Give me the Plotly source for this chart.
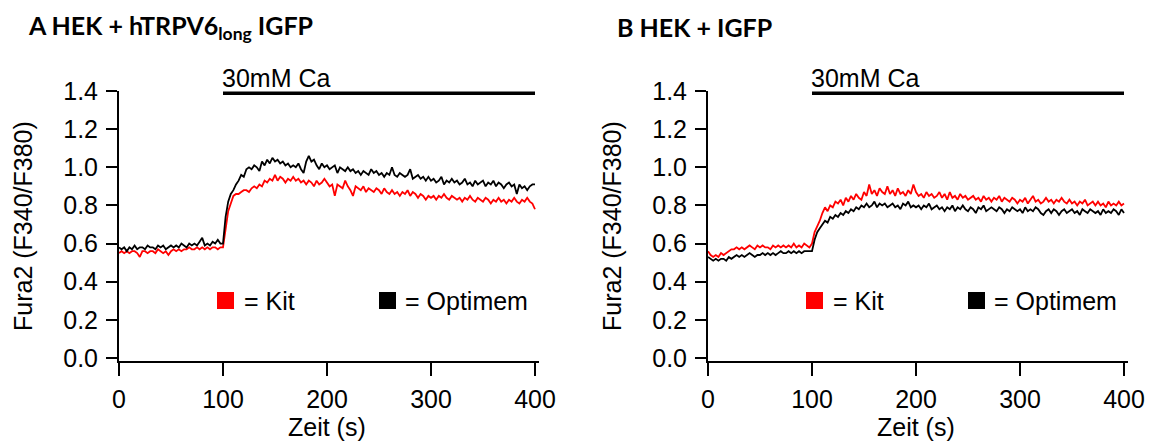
import plotly.graph_objects as go

# ---------------- data ----------------
time_step = 2.5
n_points = 161
time_s = [i * time_step for i in range(n_points)]

kit_A = [
    0.55, 0.56, 0.55, 0.56, 0.55, 0.56, 0.56, 0.55, 0.53, 0.56,
    0.56, 0.55, 0.56, 0.56, 0.55, 0.57, 0.56, 0.55, 0.56, 0.54,
    0.56, 0.57, 0.56, 0.57, 0.56, 0.57, 0.57, 0.58, 0.57, 0.57,
    0.58, 0.57, 0.58, 0.57, 0.58, 0.57, 0.58, 0.58, 0.57, 0.58,
    0.58, 0.69, 0.77, 0.81, 0.85, 0.86, 0.86, 0.87, 0.88, 0.88,
    0.87, 0.89, 0.90, 0.89, 0.91, 0.90, 0.93, 0.92, 0.94, 0.93,
    0.96, 0.93, 0.95, 0.94, 0.92, 0.94, 0.93, 0.95, 0.93, 0.94,
    0.92, 0.93, 0.91, 0.93, 0.92, 0.90, 0.93, 0.91, 0.92, 0.94,
    0.92, 0.90, 0.91, 0.85, 0.91, 0.90, 0.89, 0.93, 0.90, 0.88,
    0.85, 0.90, 0.89, 0.88, 0.90, 0.87, 0.89, 0.88, 0.87, 0.89,
    0.88, 0.86, 0.89, 0.87, 0.86, 0.88, 0.86, 0.87, 0.85, 0.87,
    0.86, 0.88, 0.85, 0.87, 0.86, 0.84, 0.86, 0.85, 0.83, 0.85,
    0.84, 0.85, 0.83, 0.85, 0.84, 0.86, 0.84, 0.83, 0.85, 0.84,
    0.83, 0.84, 0.82, 0.84, 0.83, 0.85, 0.83, 0.82, 0.84, 0.83,
    0.82, 0.84, 0.83, 0.81, 0.83, 0.82, 0.84, 0.82, 0.83, 0.81,
    0.83, 0.82, 0.84, 0.82, 0.81, 0.83, 0.82, 0.84, 0.82, 0.81,
    0.78,
]

optimem_A = [
    0.58, 0.57, 0.58, 0.56, 0.58, 0.57, 0.59, 0.57, 0.58, 0.58,
    0.57, 0.59, 0.58, 0.58, 0.57, 0.59, 0.58, 0.59, 0.57, 0.58,
    0.59, 0.58, 0.59, 0.58, 0.60, 0.59, 0.58, 0.60, 0.59, 0.60,
    0.59, 0.61, 0.63, 0.59, 0.60, 0.59, 0.61, 0.60, 0.62, 0.60,
    0.60, 0.74, 0.82, 0.86, 0.88, 0.91, 0.93, 0.96, 0.95, 0.99,
    1.00, 0.99, 1.01, 1.00, 0.98, 1.03, 1.01, 1.04, 1.02, 1.05,
    1.03, 1.04, 1.02, 1.03, 1.01, 1.02, 1.00, 1.01, 1.00, 1.02,
    0.99, 0.97, 1.03, 1.06, 1.03, 1.04, 1.01, 0.99, 1.02, 1.00,
    1.01, 0.99, 1.00, 1.01, 0.97, 1.00, 0.99, 0.98, 1.00, 0.98,
    0.99, 0.97, 0.98, 0.96, 0.98, 0.97, 0.96, 0.99, 0.97, 0.98,
    0.96, 0.97, 0.95, 0.97, 0.96, 1.00, 0.96, 0.95, 0.97, 0.96,
    0.95, 0.96, 0.99, 0.94, 0.95, 0.96, 0.94, 0.95, 0.93, 0.95,
    0.93, 0.94, 0.92, 0.93, 0.95, 0.91, 0.93, 0.92, 0.94, 0.92,
    0.93, 0.91, 0.92, 0.94, 0.91, 0.92, 0.90, 0.93, 0.91, 0.92,
    0.93, 0.90, 0.92, 0.91, 0.93, 0.90, 0.92, 0.91, 0.89, 0.91,
    0.92, 0.90, 0.91, 0.86, 0.91, 0.89, 0.90, 0.88, 0.90, 0.91,
    0.91,
]

kit_B = [
    0.56, 0.54, 0.53, 0.54, 0.53, 0.55, 0.54, 0.55, 0.56, 0.57,
    0.57, 0.58, 0.57, 0.58, 0.57, 0.58, 0.59, 0.58, 0.57, 0.59,
    0.58, 0.59, 0.58, 0.58, 0.57, 0.59, 0.58, 0.59, 0.58, 0.59,
    0.58, 0.59, 0.58, 0.60, 0.58, 0.59, 0.58, 0.60, 0.59, 0.58,
    0.60, 0.66, 0.69, 0.72, 0.76, 0.79, 0.77, 0.80, 0.79, 0.82,
    0.81, 0.83, 0.80, 0.84, 0.82, 0.85, 0.83, 0.86, 0.84, 0.83,
    0.87, 0.85, 0.91, 0.86, 0.88, 0.85, 0.89, 0.87, 0.86, 0.90,
    0.86, 0.88, 0.85, 0.89, 0.86, 0.87, 0.85, 0.88, 0.86, 0.91,
    0.87, 0.85, 0.86, 0.84, 0.87, 0.85, 0.86, 0.84, 0.85, 0.87,
    0.84, 0.86, 0.83, 0.87, 0.84, 0.85, 0.83, 0.86, 0.84, 0.85,
    0.83, 0.84, 0.85, 0.83, 0.84, 0.82, 0.85, 0.83, 0.84, 0.82,
    0.84, 0.83, 0.85, 0.82, 0.84, 0.83, 0.82, 0.84, 0.83, 0.81,
    0.83, 0.82, 0.84, 0.81, 0.83, 0.85, 0.82, 0.83, 0.81, 0.82,
    0.84, 0.82, 0.83, 0.81, 0.83, 0.82, 0.84, 0.82, 0.81, 0.83,
    0.81, 0.82, 0.80, 0.82, 0.81, 0.83, 0.80, 0.81, 0.82, 0.80,
    0.82, 0.80, 0.81, 0.79, 0.82, 0.80, 0.81, 0.80, 0.82, 0.80,
    0.81,
]

optimem_B = [
    0.53, 0.52, 0.51, 0.52, 0.51, 0.52, 0.52, 0.51, 0.53, 0.52,
    0.53, 0.54, 0.53, 0.54, 0.53, 0.54, 0.55, 0.54, 0.53, 0.54,
    0.54, 0.55, 0.54, 0.55, 0.54, 0.55, 0.54, 0.55, 0.56, 0.55,
    0.55, 0.56, 0.55, 0.56, 0.55, 0.56, 0.55, 0.56, 0.56, 0.56,
    0.56, 0.62, 0.66, 0.68, 0.70, 0.72, 0.71, 0.74, 0.73, 0.75,
    0.74, 0.76, 0.75, 0.77, 0.76, 0.78, 0.77, 0.79, 0.78, 0.80,
    0.79, 0.81, 0.79, 0.80, 0.82, 0.79, 0.81, 0.80, 0.81, 0.79,
    0.80, 0.81, 0.79, 0.80, 0.78, 0.81, 0.80, 0.82, 0.79, 0.80,
    0.79, 0.80, 0.78, 0.80, 0.79, 0.81, 0.78, 0.79, 0.80, 0.78,
    0.79, 0.77, 0.79, 0.78, 0.80, 0.77, 0.79, 0.78, 0.80, 0.78,
    0.77, 0.79, 0.78, 0.76, 0.79, 0.78, 0.80, 0.77, 0.78, 0.79,
    0.78, 0.77, 0.79, 0.78, 0.76, 0.78, 0.77, 0.79, 0.78, 0.77,
    0.78, 0.76, 0.79, 0.77, 0.78, 0.77, 0.79, 0.78, 0.76, 0.75,
    0.77, 0.78, 0.76, 0.78, 0.77, 0.75, 0.77, 0.78, 0.76, 0.77,
    0.78, 0.76, 0.77, 0.75, 0.78, 0.77, 0.76, 0.78, 0.77, 0.76,
    0.77, 0.75, 0.78, 0.76, 0.77, 0.76, 0.78, 0.77, 0.75, 0.78,
    0.76,
]

x_ticks = [0, 100, 200, 300, 400]
y_ticks = [0.0, 0.2, 0.4, 0.6, 0.8, 1.0, 1.2, 1.4]
y_tick_labels = ["0.0", "0.2", "0.4", "0.6", "0.8", "1.0", "1.2", "1.4"]
panel_titles = ["<b>A HEK + hTRPV6<sub>long</sub> IGFP</b>", "<b>B HEK + IGFP</b>"]
stim_label = "30mM Ca"
stim_start, stim_end = 100, 400
series_names = ["= Kit", "= Optimem"]
series_colors = ["#ff0000", "#000000"]
x_title = "Zeit (s)"
y_title = "Fura2 (F340/F380)"

# ---------------- layout helpers ----------------
W, H = 1151, 441
def px(xp):
    return xp / W
def py(yp):
    return 1 - yp / H

FONT = "Liberation Sans, Arial, sans-serif"
TITLE_FONT = "Lato, Carlito, sans-serif"
FS = 25

fig = go.Figure()

panels = [
    dict(kit=kit_A, opt=optimem_A, xa="x", ya="y", x0=119),
    dict(kit=kit_B, opt=optimem_B, xa="x2", ya="y2", x0=708),
]

for p in panels:
    for vals, col in ((p["kit"], series_colors[0]), (p["opt"], series_colors[1])):
        fig.add_trace(go.Scatter(
            x=time_s, y=vals, mode="lines",
            line=dict(color=col, width=1.8),
            xaxis=p["xa"], yaxis=p["ya"], showlegend=False,
            hoverinfo="skip",
        ))

x_range = [0, 404]
y_range = [-0.0157, 1.4]
px_per_s = 1.04
y_dom = [py(361), py(91)]

axis_common = dict(
    showline=True, linewidth=2, linecolor="black",
    ticks="outside", tickwidth=2, tickcolor="black",
    showgrid=False, zeroline=False, automargin=False,
    tickfont=dict(family=FONT, size=FS, color="black"),
    fixedrange=True,
)

layout_axes = {}
for i, p in enumerate(panels):
    sfx = "" if i == 0 else "2"
    x0 = p["x0"]
    x1 = x0 + (x_range[1] - x_range[0]) * px_per_s
    layout_axes["xaxis" + sfx] = dict(
        domain=[px(x0), px(x1)], range=x_range, anchor="y" + sfx,
        tickvals=x_ticks, ticklen=13, ticklabelstandoff=2, **axis_common)
    layout_axes["yaxis" + sfx] = dict(
        domain=y_dom, range=y_range, anchor="x" + sfx,
        tickvals=y_ticks, ticktext=y_tick_labels, ticklen=11, ticklabelstandoff=3,
        **axis_common)

annotations = []
shapes = []
for i, p in enumerate(panels):
    off = p["x0"] - 119
    xa, ya = p["xa"], p["ya"]
    # panel title
    annotations.append(dict(
        text=panel_titles[i], x=px(26 + off), y=py(27), xref="paper", yref="paper",
        xanchor="left", yanchor="middle", showarrow=False,
        font=dict(family=TITLE_FONT, size=25, color="black")))
    # stimulus bar + label
    shapes.append(dict(type="line", xref=xa, yref=ya, x0=stim_start, x1=stim_end,
                       y0=1.388, y1=1.388, line=dict(color="black", width=3.5)))
    annotations.append(dict(
        text=stim_label, x=stim_start, y=py(78), xref=xa, yref="paper",
        xanchor="left", yanchor="middle", showarrow=False, xshift=-3,
        font=dict(family=FONT, size=FS, color="black")))
    # axis titles
    annotations.append(dict(
        text=y_title, x=px(23 + off), y=py(226), xref="paper", yref="paper",
        xanchor="center", yanchor="middle", textangle=-90, showarrow=False,
        font=dict(family=FONT, size=FS, color="black")))
    annotations.append(dict(
        text=x_title, x=px(327 + off), y=py(427), xref="paper", yref="paper",
        xanchor="center", yanchor="middle", showarrow=False,
        font=dict(family=FONT, size=FS, color="black")))
    # legend squares + labels
    for j, (sx, tx) in enumerate(((217, 242), (379, 403))):
        shapes.append(dict(type="rect", xref="paper", yref="paper",
                           x0=px(sx + off), x1=px(sx + off + 17),
                           y0=py(309), y1=py(292),
                           fillcolor=series_colors[j], line=dict(width=0)))
        annotations.append(dict(
            text=series_names[j], x=px(tx + off), y=py(301), xref="paper", yref="paper",
            xanchor="left", yanchor="middle", showarrow=False,
            font=dict(family=FONT, size=FS, color="black")))

fig.update_layout(
    width=W, height=H,
    margin=dict(l=0, r=0, t=0, b=0),
    paper_bgcolor="white", plot_bgcolor="white",
    showlegend=False,
    annotations=annotations, shapes=shapes,
    **layout_axes,
)

fig.write_html("out.html", config={"displayModeBar": False})
